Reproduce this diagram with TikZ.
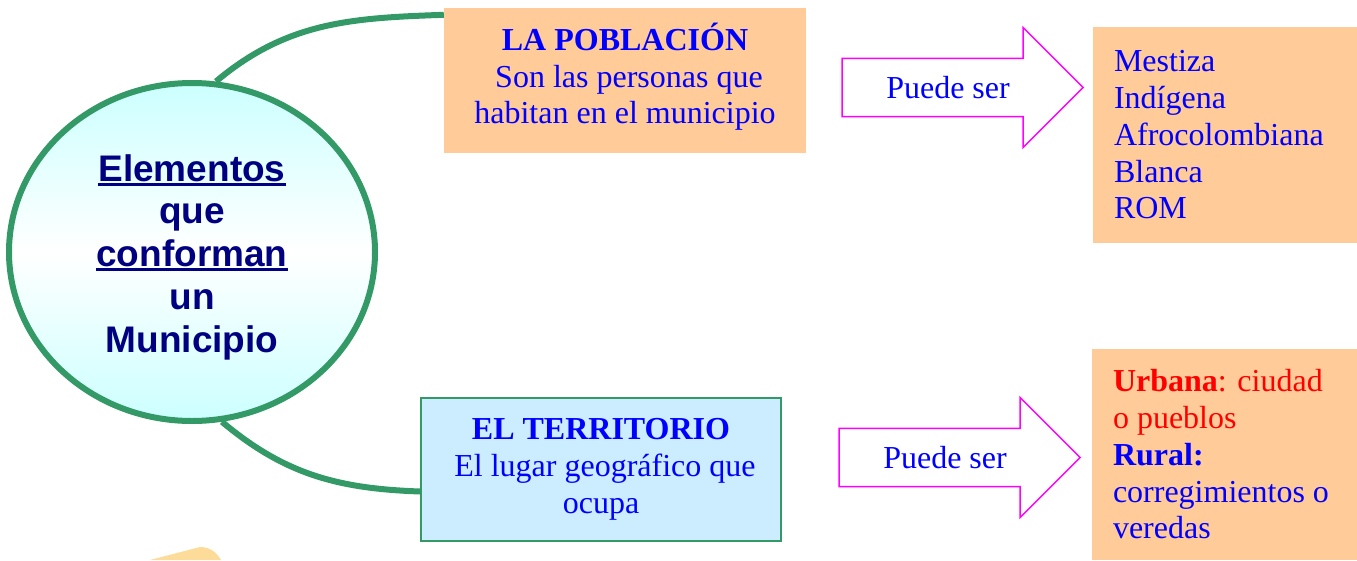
\documentclass[tikz,border=0pt]{standalone}
\usepackage{fontspec}
\setmainfont{Liberation Serif}
\setsansfont{Liberation Sans}
\usetikzlibrary{shapes.geometric,shapes.arrows}
\definecolor{verde}{HTML}{339966}
\definecolor{durazno}{HTML}{FFCC99}
\definecolor{celeste}{HTML}{CCECFF}
\definecolor{cian}{HTML}{CCFFFF}
\definecolor{azul}{HTML}{0000FF}
\definecolor{marino}{HTML}{000080}
\definecolor{rosa}{HTML}{FF00FF}
\definecolor{rojo}{HTML}{FF0000}
\definecolor{amarillo}{HTML}{FDDC9A}
\newcommand{\subrayar}[1]{\setbox0\hbox{#1}\rlap{\rule[-4.5pt]{\wd0}{3pt}}\box0}
\begin{document}
\begin{tikzpicture}[x=1pt,y=-1pt,
  txt/.style={font=\fontsize{32}{36.75}\selectfont,text=azul},
  caja/.style={txt,fill=durazno,inner sep=0pt,align=center},
  lista/.style={txt,fill=durazno,inner sep=0pt,align=flush left},
  flecha/.style={txt,single arrow,draw=rosa,line width=1.5pt,fill=white,inner xsep=0pt,inner ysep=16pt,
    minimum height=241pt,minimum width=120pt,single arrow head extend=29.5pt,single arrow tip angle=90},
  enlace/.style={draw=verde,line width=6pt}]
\useasboundingbox (0,0) rectangle (1357,560);
% centro
\node[ellipse,draw=verde,line width=6pt,top color=cian,bottom color=cian,middle color=white,
  minimum width=366pt,minimum height=338pt,align=center,text=marino,
  font=\sffamily\bfseries\fontsize{37}{42.75}\selectfont] (elem) at (192,252)
  {\rule{0pt}{37pt}\subrayar{Elementos}\\que\\\subrayar{conforman}\\un\\Municipio};
% ramas
\node[caja,minimum width=362pt,minimum height=145pt] (pob) at (625,80.5)
  {\textbf{LA POBLACIÓN}\\~Son las personas que\\habitan en el municipio\rule[-14pt]{0pt}{0pt}};
\node[caja,fill=celeste,draw=verde,line width=1.5pt,minimum width=360pt,minimum height=143pt] (terr) at (601,469.5)
  {\textbf{EL TERRITORIO}\\~El lugar geográfico que\\ocupa};
\draw[enlace] (elem.82) to[out=40,in=182] ([yshift=-7pt]pob.north west);
\draw[enlace] (elem.-80) to[out=-40,in=178] ([yshift=-22pt]terr.west);
% flechas
\node[flecha] (f1) at (948,87.5) {Puede ser};
\node[flecha] (f2) at (945,457.5) {Puede ser};
% listas
\node[lista,minimum width=264pt,minimum height=216pt,text width=222pt] (tipos) at (1225,135)
  {Mestiza\\Indígena\\Afrocolombiana\\Blanca\\ROM};
\node[lista,minimum width=265pt,minimum height=211pt,text width=223pt] (zonas) at (1224.5,454.5)
  {\textcolor{rojo}{\textbf{Urbana}: ciudad}\\\textcolor{rojo}{o pueblos}\\\textbf{Rural:}\\corregimientos o\\veredas};
% nota cortada
\fill[amarillo] (150,560) -- (200,547) to[out=0,in=120] (221,560) -- cycle;
\end{tikzpicture}
\end{document}
